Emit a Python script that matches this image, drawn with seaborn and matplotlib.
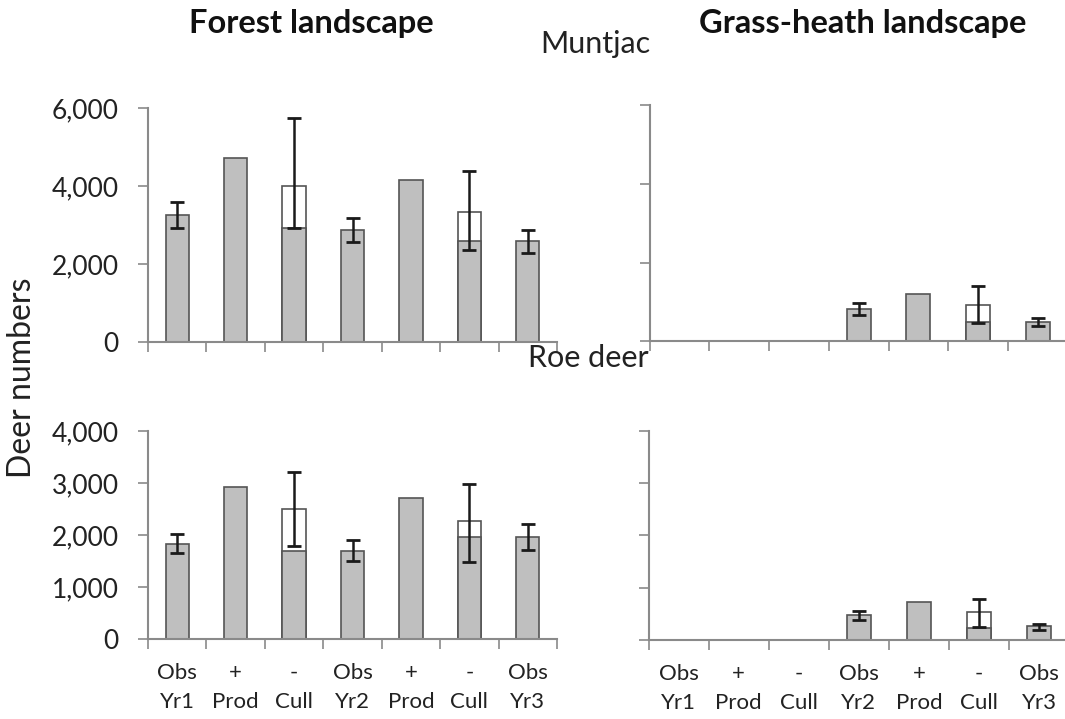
import numpy as np
import pandas as pd
import matplotlib
matplotlib.use("Agg")
import matplotlib.pyplot as plt
from matplotlib.ticker import StrMethodFormatter, FixedLocator
import seaborn as sns

# ---- data -------------------------------------------------------------
step_keys = ["obs_yr1", "prod_1", "cull_1", "obs_yr2", "prod_2", "cull_2", "obs_yr3"]
tick_labels = ["Obs\nYr1", "+\nProd", "-\nCull", "Obs\nYr2", "+\nProd", "-\nCull", "Obs\nYr3"]
nan = np.nan

# Muntjac, forest landscape
mf_base = [3250, 4720, 2920, 2880, 4170, 2600, 2600]
mf_total = [nan, nan, 4000, nan, nan, 3340, nan]
mf_low = [2920, nan, 2920, 2570, nan, 2350, 2290]
mf_high = [3600, nan, 5750, 3190, nan, 4380, 2870]

# Muntjac, grass-heath landscape
mg_base = [nan, nan, nan, 830, 1210, 500, 480]
mg_total = [nan, nan, nan, nan, nan, 920, nan]
mg_low = [nan, nan, nan, 665, nan, 455, 395]
mg_high = [nan, nan, nan, 960, nan, 1400, 590]

# Roe deer, forest landscape
rf_base = [1830, 2930, 1700, 1700, 2710, 1970, 1970]
rf_total = [nan, nan, 2500, nan, nan, 2280, nan]
rf_low = [1655, nan, 1800, 1505, nan, 1475, 1710]
rf_high = [2030, nan, 3215, 1905, nan, 2975, 2210]

# Roe deer, grass-heath landscape
rg_base = [nan, nan, nan, 480, 735, 225, 262]
rg_total = [nan, nan, nan, nan, nan, 540, nan]
rg_low = [nan, nan, nan, 380, nan, 255, 190]
rg_high = [nan, nan, nan, 560, nan, 785, 312]

# ---- style ------------------------------------------------------------
sns.set_theme(style="white")
plt.rcParams["font.family"] = ["Lato", "DejaVu Sans"]

GRAY = "#bfbfbf"
EDGE = "#555555"
AXIS = "#8a8a8a"
TEXT = "#222222"

fig = plt.figure(figsize=(10.65, 7.19), dpi=100)

panels = [
    # (rect, base, total, low, high, ymax, ystep, ylabels, xlabels)
    ([0.139, 0.5248, 0.384, 0.3243], mf_base, mf_total, mf_low, mf_high, 6000, 2000, True, False),
    ([0.610, 0.5253, 0.3925, 0.3287], mg_base, mg_total, mg_low, mg_high, 6000, 2000, False, False),
    ([0.139, 0.1109, 0.384, 0.2897], rf_base, rf_total, rf_low, rf_high, 4000, 1000, True, True),
    ([0.609, 0.1099, 0.395, 0.2907], rg_base, rg_total, rg_low, rg_high, 4000, 1000, False, True),
]

for rect, base, total, low, high, ymax, ystep, show_y, show_x in panels:
    ax = fig.add_axes(rect)
    df = pd.DataFrame({"step": step_keys, "base": base, "total": total,
                       "low": low, "high": high})
    # unculled total (white part) drawn first, observed/projected part over it
    sns.barplot(data=df, x="step", y="total", order=step_keys, color="white",
                edgecolor=EDGE, linewidth=1.2, width=0.4, saturation=1,
                errorbar=None, ax=ax)
    sns.barplot(data=df, x="step", y="base", order=step_keys, color=GRAY,
                edgecolor=EDGE, linewidth=1.2, width=0.4, saturation=1,
                errorbar=None, ax=ax)

    pos = np.arange(len(step_keys))
    centre = df["total"].fillna(df["base"]).to_numpy()
    lo = df["low"].to_numpy()
    hi = df["high"].to_numpy()
    ok = ~np.isnan(lo)
    ax.errorbar(pos[ok], centre[ok],
                yerr=[centre[ok] - lo[ok], hi[ok] - centre[ok]],
                fmt="none", ecolor="#1a1a1a", elinewidth=1.8,
                capsize=5, capthick=2, zorder=5)

    ax.set_xlim(-0.5, len(step_keys) - 0.5)
    ax.set_ylim(0, ymax)
    ax.set_xlabel("")
    ax.set_ylabel("")

    ax.yaxis.set_major_locator(FixedLocator(np.arange(0, ymax + 1, ystep)))
    ax.yaxis.set_major_formatter(StrMethodFormatter("{x:,.0f}"))
    ax.tick_params(axis="y", direction="out", length=7, width=1.2, color=AXIS,
                   left=True, labelsize=19, labelcolor=TEXT, pad=14,
                   labelleft=show_y)

    ax.set_xticks(pos)
    ax.set_xticklabels(tick_labels if show_x else [""] * len(pos),
                       fontsize=16, color=TEXT, linespacing=1.6)
    ax.tick_params(axis="x", which="major", length=0, pad=17)
    ax.set_xticks(np.arange(-0.5, len(step_keys)), minor=True)
    ax.tick_params(axis="x", which="minor", direction="out", length=7,
                   width=1.2, color=AXIS, bottom=True)

    for side in ("top", "right"):
        ax.spines[side].set_visible(False)
    for side in ("left", "bottom"):
        ax.spines[side].set_color(AXIS)
        ax.spines[side].set_linewidth(1.5)

# headings
fig.text(311 / 1065, 1 - 23 / 719, "Forest landscape", ha="center", va="center",
         fontsize=23.5, fontweight="bold", color="#111111")
fig.text(863 / 1065, 1 - 23 / 719, "Grass-heath landscape", ha="center", va="center",
         fontsize=23.5, fontweight="bold", color="#111111")
fig.text(595 / 1065, 1 - 44 / 719, "Muntjac", ha="center", va="center",
         fontsize=22, color=TEXT)
fig.text(588 / 1065, 1 - 358 / 719, "Roe deer", ha="center", va="center",
         fontsize=22, color=TEXT)
fig.text(22 / 1065, 1 - 378 / 719, "Deer numbers", ha="center", va="center",
         rotation=90, fontsize=23, color=TEXT)

fig.savefig("out.png", dpi=100, facecolor="white")
